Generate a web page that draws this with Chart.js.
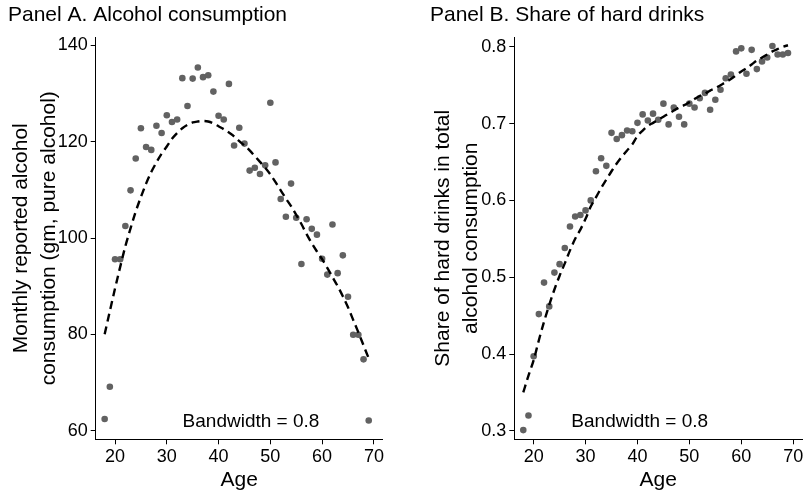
<!DOCTYPE html>
<html>
<head>
<meta charset="utf-8">
<script src="https://cdn.jsdelivr.net/npm/chart.js@4.4.1/dist/chart.umd.min.js"></script>
<style>
  html, body { margin: 0; padding: 0; background: #fff; }
  #wrap { position: relative; width: 806px; height: 497px; }
  .panel { position: absolute; top: 0; width: 403px; height: 497px; }
  #panelA { left: 0; }
  #panelB { left: 403px; }
</style>
</head>
<body>
<div id="wrap">
  <div class="panel" id="panelA"><canvas id="chartA" width="403" height="497"></canvas></div>
  <div class="panel" id="panelB"><canvas id="chartB" width="403" height="497"></canvas></div>
</div>
<script>
// ages 18..69, one point per year
const ages = [18, 19, 20, 21, 22, 23, 24, 25, 26, 27, 28, 29, 30, 31, 32, 33, 34, 35, 36, 37,
              38, 39, 40, 41, 42, 43, 44, 45, 46, 47, 48, 49, 50, 51, 52, 53, 54, 55, 56, 57,
              58, 59, 60, 61, 62, 63, 64, 65, 66, 67, 68, 69];

// Panel A: monthly alcohol (gm pure alcohol)
const consumption = [62.4, 69.1, 95.6, 95.6, 102.5, 109.9, 116.5, 122.8, 118.9, 118.3,
                     123.3, 121.8, 125.5, 124.1, 124.6, 133.2, 127.4, 133.1, 135.4, 133.4,
                     133.8, 130.4, 125.4, 124.6, 132.0, 119.2, 122.9, 119.6, 114.0, 114.6,
                     113.3, 115.1, 128.1, 115.7, 108.1, 104.4, 111.3, 104.2, 94.6, 103.9,
                     101.9, 100.7, 95.7, 92.4, 102.8, 92.7, 96.4, 87.8, 79.9, 79.9, 74.8, 62.1];
const consumptionFit = [80.0, 84.8, 89.5, 94.0, 98.3, 102.0, 105.5, 108.5, 111.3, 113.7,
                        115.7, 117.5, 119.0, 120.6, 121.8, 122.8, 123.5, 124.0, 124.2, 124.3,
                        124.2, 123.8, 123.2, 122.6, 121.9, 121.1, 120.1, 119.2, 118.2, 117.0,
                        115.8, 114.6, 113.2, 111.6, 109.9, 108.2, 106.6, 104.8, 102.9, 100.8,
                        98.9, 97.2, 95.6, 93.8, 91.9, 90.0, 87.9, 85.6, 83.0, 80.4, 77.7, 75.0];

// Panel B: share of hard drinks
const hardShare = [0.301, 0.320, 0.397, 0.452, 0.493, 0.462, 0.506, 0.517, 0.538, 0.566,
                   0.579, 0.581, 0.587, 0.600, 0.638, 0.655, 0.645, 0.688, 0.680, 0.685,
                   0.691, 0.690, 0.701, 0.712, 0.704, 0.713, 0.705, 0.726, 0.699, 0.721,
                   0.709, 0.699, 0.726, 0.721, 0.733, 0.740, 0.718, 0.731, 0.744, 0.759,
                   0.764, 0.794, 0.798, 0.765, 0.796, 0.771, 0.781, 0.786, 0.801, 0.790, 0.790, 0.792];
const hardShareFit = [0.350, 0.372, 0.392, 0.418, 0.442, 0.464, 0.484, 0.502, 0.518, 0.535,
                      0.550, 0.562, 0.576, 0.592, 0.604, 0.616, 0.627, 0.638, 0.648, 0.657,
                      0.665, 0.673, 0.684, 0.691, 0.697, 0.701, 0.705, 0.709, 0.713, 0.717,
                      0.721, 0.724, 0.728, 0.732, 0.736, 0.739, 0.743, 0.746, 0.750, 0.754,
                      0.758, 0.763, 0.768, 0.772, 0.777, 0.782, 0.786, 0.790, 0.794, 0.797, 0.800, 0.802];

const xTicks = [20, 30, 40, 50, 60, 70];
const yTicksA = [60, 80, 100, 120, 140];
const yTicksB = [0.3, 0.4, 0.5, 0.6, 0.7, 0.8];

const FONT = '"Liberation Sans", Arial, Helvetica, sans-serif';
Chart.defaults.font.family = FONT;
Chart.defaults.color = '#000';

// small text inside the plot, e.g. "Bandwidth = 0.8"
const noteLabel = {
  id: 'noteLabel',
  afterDraw(chart, args, opts) {
    const a = chart.chartArea;
    const ctx = chart.ctx;
    ctx.save();
    ctx.font = '19px ' + FONT;
    ctx.fillStyle = '#000';
    ctx.textAlign = 'center';
    ctx.textBaseline = 'middle';
    ctx.fillText(opts.text, a.left + a.width * opts.fx, a.bottom - opts.dy);
    ctx.restore();
  }
};

function toPoints(ys) {
  return ages.map((a, i) => ({ x: a, y: ys[i] }));
}

function makePanel(id, p) {
  return new Chart(document.getElementById(id), {
    type: 'scatter',
    data: {
      datasets: [
        {
          label: 'fit',
          data: toPoints(p.fit),
          showLine: true,
          borderColor: '#000',
          borderWidth: 2.4,
          borderDash: [8, 5],
          pointRadius: 0,
          cubicInterpolationMode: 'monotone'
        },
        {
          label: 'mean',
          data: toPoints(p.values),
          pointRadius: 3.3,
          pointBackgroundColor: '#626262',
          pointBorderWidth: 0
        }
      ]
    },
    options: {
      responsive: false,
      animation: false,
      layout: { padding: { left: p.padLeft, right: p.padRight, top: 0, bottom: 0 } },
      scales: {
        x: {
          type: 'linear',
          min: 16.27,
          max: 71.7,
          border: { color: '#000', width: 1 },
          grid: { drawOnChartArea: false, tickLength: 5, color: '#000' },
          afterBuildTicks: s => { s.ticks = xTicks.map(v => ({ value: v })); },
          ticks: { font: { size: 18 }, padding: 2, maxRotation: 0 },
          title: { display: true, text: 'Age', font: { size: 21 }, padding: { top: 0 } },
          afterFit: s => { s.height = 57.7; }
        },
        y: {
          type: 'linear',
          min: p.yMin,
          max: p.yMax,
          border: { color: '#000', width: 1 },
          grid: { drawOnChartArea: false, tickLength: 5, color: '#000' },
          afterBuildTicks: s => { s.ticks = p.yTicks.map(v => ({ value: v })); },
          ticks: { font: { size: 18 }, padding: 3, callback: p.fmt },
          title: { display: true, text: p.yTitle, font: { size: 21, lineHeight: 1.3 }, padding: 0 },
          afterFit: s => { s.width = p.yWidth; }
        }
      },
      plugins: {
        legend: { display: false },
        tooltip: { enabled: false },
        title: {
          display: true,
          text: p.title,
          align: 'start',
          font: { size: 21, weight: 'normal', lineHeight: 1.2 },
          padding: { top: 3, bottom: 9 }
        },
        noteLabel: { text: 'Bandwidth = 0.8', fx: p.noteX, dy: 18 }
      }
    },
    plugins: [noteLabel]
  });
}

makePanel('chartA', {
  title: 'Panel A. Alcohol consumption',
  values: consumption,
  fit: consumptionFit,
  yMin: 58.2, yMax: 141.7,
  yTicks: yTicksA,
  fmt: v => String(v),
  yTitle: ['Monthly reported alcohol', 'consumption (gm, pure alcohol)'],
  padLeft: 8, padRight: 20.3, yWidth: 87.7,
  noteX: 0.541
});

makePanel('chartB', {
  title: 'Panel B. Share of hard drinks',
  values: hardShare,
  fit: hardShareFit,
  yMin: 0.289, yMax: 0.8125,
  yTicks: yTicksB,
  fmt: v => v.toFixed(1),
  yTitle: ['Share of hard drinks in total', 'alcohol consumption'],
  padLeft: 27, padRight: 3.7, yWidth: 84.3,
  noteX: 0.436
});
</script>
</body>
</html>
